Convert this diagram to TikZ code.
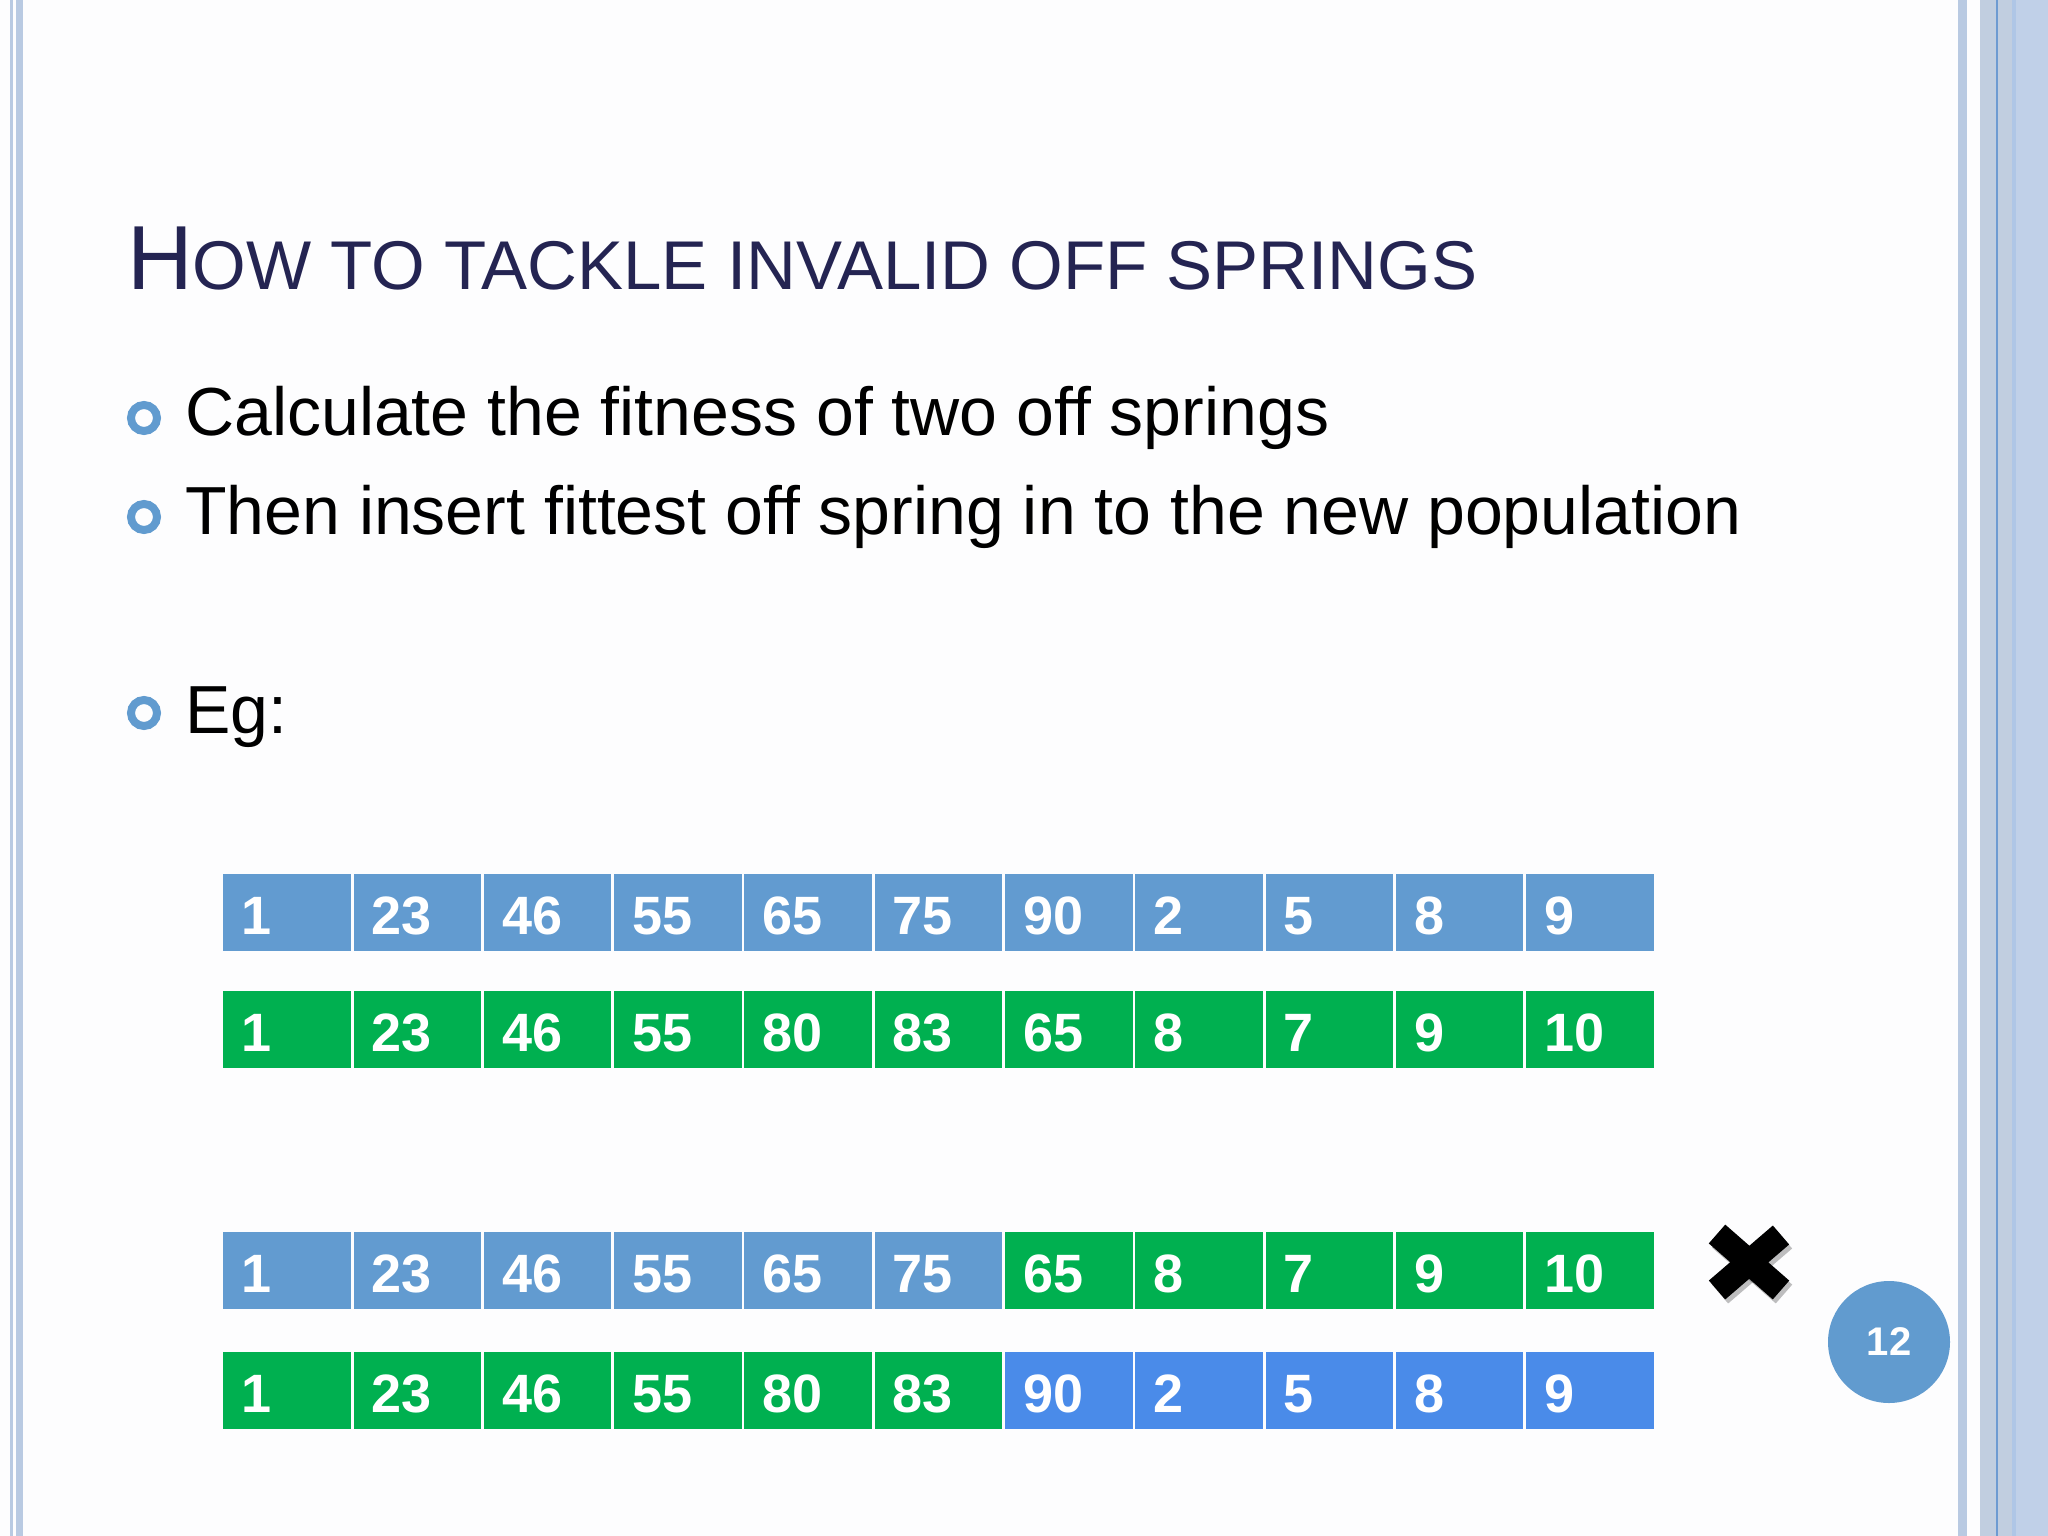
\documentclass[tikz,border=0pt]{standalone}
\usepackage{fontspec}
\setmainfont{Liberation Sans}
\definecolor{cellblue}{RGB}{98,155,208}
\definecolor{brightblue}{RGB}{74,139,233}
\definecolor{cellgreen}{RGB}{0,176,80}
\definecolor{titlecol}{RGB}{36,36,82}
\definecolor{bulletblue}{RGB}{97,155,207}
\definecolor{bord}{RGB}{185,202,226}
\definecolor{bordB}{RGB}{193,206,224}
\definecolor{bordC}{RGB}{192,208,232}
\definecolor{bordline}{RGB}{110,155,210}
\definecolor{bordD}{RGB}{175,198,230}
\definecolor{pagebg}{RGB}{253,253,254}
\tikzset{
  cellbox/.style={rectangle, inner sep=0pt, minimum width=127.5pt, minimum height=77pt,
    text width=91pt, align=left, text height=43pt, text depth=0pt, text=white,
    font=\fontsize{54}{60}\selectfont\bfseries, anchor=north west},
  bluecell/.style={cellbox, fill=cellblue},
  greencell/.style={cellbox, fill=cellgreen},
  brightcell/.style={cellbox, fill=brightblue},
  bulletring/.style={circle, draw=bulletblue, line width=8pt, minimum size=26pt, inner sep=0pt},
  bullettext/.style={anchor=base west, inner sep=0pt, font=\fontsize{68}{80}\selectfont, text=black},
  xarm/.style={line width=25pt, line cap=butt},
}
\begin{document}
\begin{tikzpicture}[x=1pt,y=-1pt]
\useasboundingbox (0,0) rectangle (2048,1536);
\fill[pagebg] (0,0) rectangle (2048,1536);
% borders
\fill[bord] (10,0) rectangle (13,1536);
\fill[bord] (16,0) rectangle (23,1536);
\fill[bord] (1958,0) rectangle (1967,1536);
\fill[bordB] (1980,0) rectangle (2048,1536);
\fill[bordD] (2012,0) rectangle (2016,1536);
\fill[bordC] (2016,0) rectangle (2048,1536);
\fill[bordline] (1996,0) rectangle (1998,1536);
% title
\node[anchor=base west, inner sep=0pt, text=titlecol] (title) at (127,289)
  {{\fontsize{91}{100}\selectfont H}{\fontsize{69}{80}\selectfont OW TO TACKLE INVALID OFF SPRINGS}};
% bullets
\node[bulletring] (b1) at (144,418) {};
\node[bulletring] (b2) at (144,517) {};
\node[bulletring] (b3) at (144,713) {};
\node[bullettext] (t1) at (185,435) {Calculate the fitness of two off springs};
\node[bullettext] (t2) at (185,534) {Then insert fittest off spring in to the new population};
\node[bullettext] (t3) at (185,733) {Eg:};
% row 1
\foreach \v [count=\i] in {1,23,46,55,65,75,90,2,5,8,9}
  \node[bluecell] (r1c\i) at ({223+130.3*(\i-1)},874) {\v};
% row 2
\foreach \v [count=\i] in {1,23,46,55,80,83,65,8,7,9,10}
  \node[greencell] (r2c\i) at ({223+130.3*(\i-1)},991) {\v};
% row 3
\foreach \v [count=\i] in {1,23,46,55,65,75}
  \node[bluecell] (r3c\i) at ({223+130.3*(\i-1)},1232) {\v};
\foreach \v [count=\i from 7] in {65,8,7,9,10}
  \node[greencell] (r3c\i) at ({223+130.3*(\i-1)},1232) {\v};
% row 4
\foreach \v [count=\i] in {1,23,46,55,80,83}
  \node[greencell] (r4c\i) at ({223+130.3*(\i-1)},1352) {\v};
\foreach \v [count=\i from 7] in {90,2,5,8,9}
  \node[brightcell] (r4c\i) at ({223+130.3*(\i-1)},1352) {\v};
% cross mark
\begin{scope}[shift={(3,4)}]
  \draw[xarm, black, opacity=0.25] (1717,1234) -- (1781,1290);
  \draw[xarm, black, opacity=0.25] (1781,1235) -- (1717,1290);
\end{scope}
\draw[xarm, black] (1717,1234) -- (1781,1290);
\draw[xarm, black] (1781,1235) -- (1717,1290);
% page number
\node[circle, fill=bulletblue, minimum size=122pt, inner sep=0pt, text=white,
  font=\fontsize{40}{44}\selectfont\bfseries] (pg) at (1889,1342) {12};
\end{tikzpicture}
\end{document}
